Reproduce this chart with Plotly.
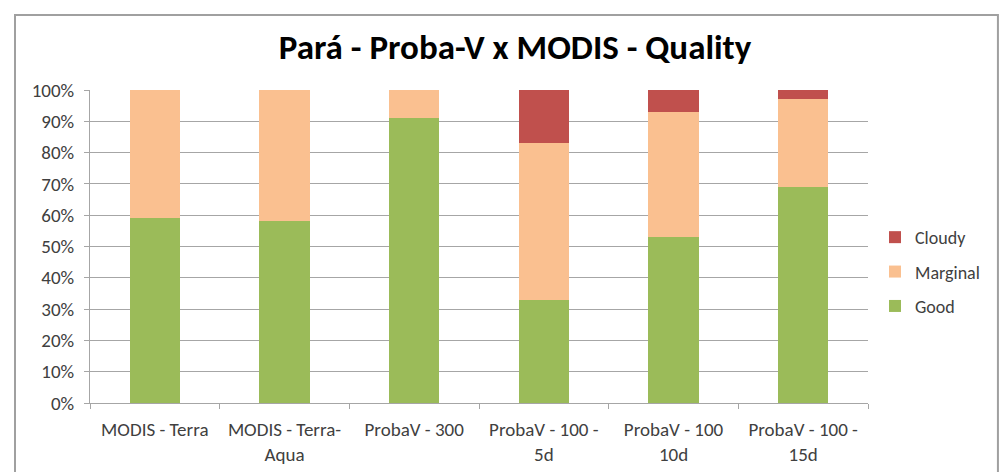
import plotly.graph_objects as go

categories = ["MODIS - Terra", "MODIS - Terra-<br>Aqua", "ProbaV - 300",
              "ProbaV - 100 -<br>5d", "ProbaV - 100<br>10d", "ProbaV - 100 -<br>15d"]
good = [59, 58, 91, 33, 53, 69]
marginal = [41, 42, 9, 50, 40, 28]
cloudy = [0, 0, 0, 17, 7, 3]
tick_vals = [0, 10, 20, 30, 40, 50, 60, 70, 80, 90, 100]
tick_text = [f"{v}%" for v in tick_vals]

font_family = "Carlito, Calibri, 'Open Sans', 'Noto Sans', sans-serif"

fig = go.Figure()
fig.add_trace(go.Bar(name="Good", x=categories, y=good, marker_color="#9BBB59",
                     marker_line_width=0, legendgroup="g", legendrank=3))
fig.add_trace(go.Bar(name="Marginal", x=categories, y=marginal, marker_color="#FAC090",
                     marker_line_width=0, legendgroup="m", legendrank=2))
fig.add_trace(go.Bar(name="Cloudy", x=categories, y=cloudy, marker_color="#C0504D",
                     marker_line_width=0, legendgroup="c", legendrank=1))

fig.update_layout(
    barmode="stack",
    bargap=0.61,
    width=1008, height=472,
    margin=dict(l=82, r=148, t=82, b=77),
    paper_bgcolor="white", plot_bgcolor="white",
    font=dict(family=font_family, size=19, color="#404040"),
    title=dict(text="Pará - Proba-V x MODIS - Quality", x=0.503, xanchor="center",
               y=0.917, yanchor="middle",
               font=dict(family=font_family, size=35, color="#000000", weight="bold")),
    legend=dict(x=1.009, y=0.588, xanchor="left", yanchor="top",
                traceorder="grouped", tracegroupgap=8,
                font=dict(size=18, color="#404040"), itemwidth=30,
                bgcolor="rgba(0,0,0,0)"),
    showlegend=True,
)
fig.update_yaxes(range=[0, 100], tickvals=tick_vals, ticktext=tick_text,
                 showgrid=True, gridcolor="#A6A6A6", gridwidth=1,
                 showline=True, linecolor="#A6A6A6", linewidth=1,
                 ticks="outside", ticklen=5, tickcolor="#A6A6A6",
                 ticklabelstandoff=6,
                 tickfont=dict(size=19, color="#404040"), zeroline=False)
fig.update_xaxes(showline=True, linecolor="#A6A6A6", linewidth=1,
                 ticks="outside", tickson="boundaries", ticklen=5, tickcolor="#A6A6A6",
                 ticklabelstandoff=9,
                 tickfont=dict(size=19, color="#404040"), tickangle=0)

fig.add_shape(type="rect", xref="paper", yref="paper",
              x0=-0.0964, x1=1.167, y0=-0.5, y1=1.2396,
              line=dict(color="#A0A0A0", width=2), fillcolor="rgba(0,0,0,0)", layer="below")

fig.write_html("out.html")
